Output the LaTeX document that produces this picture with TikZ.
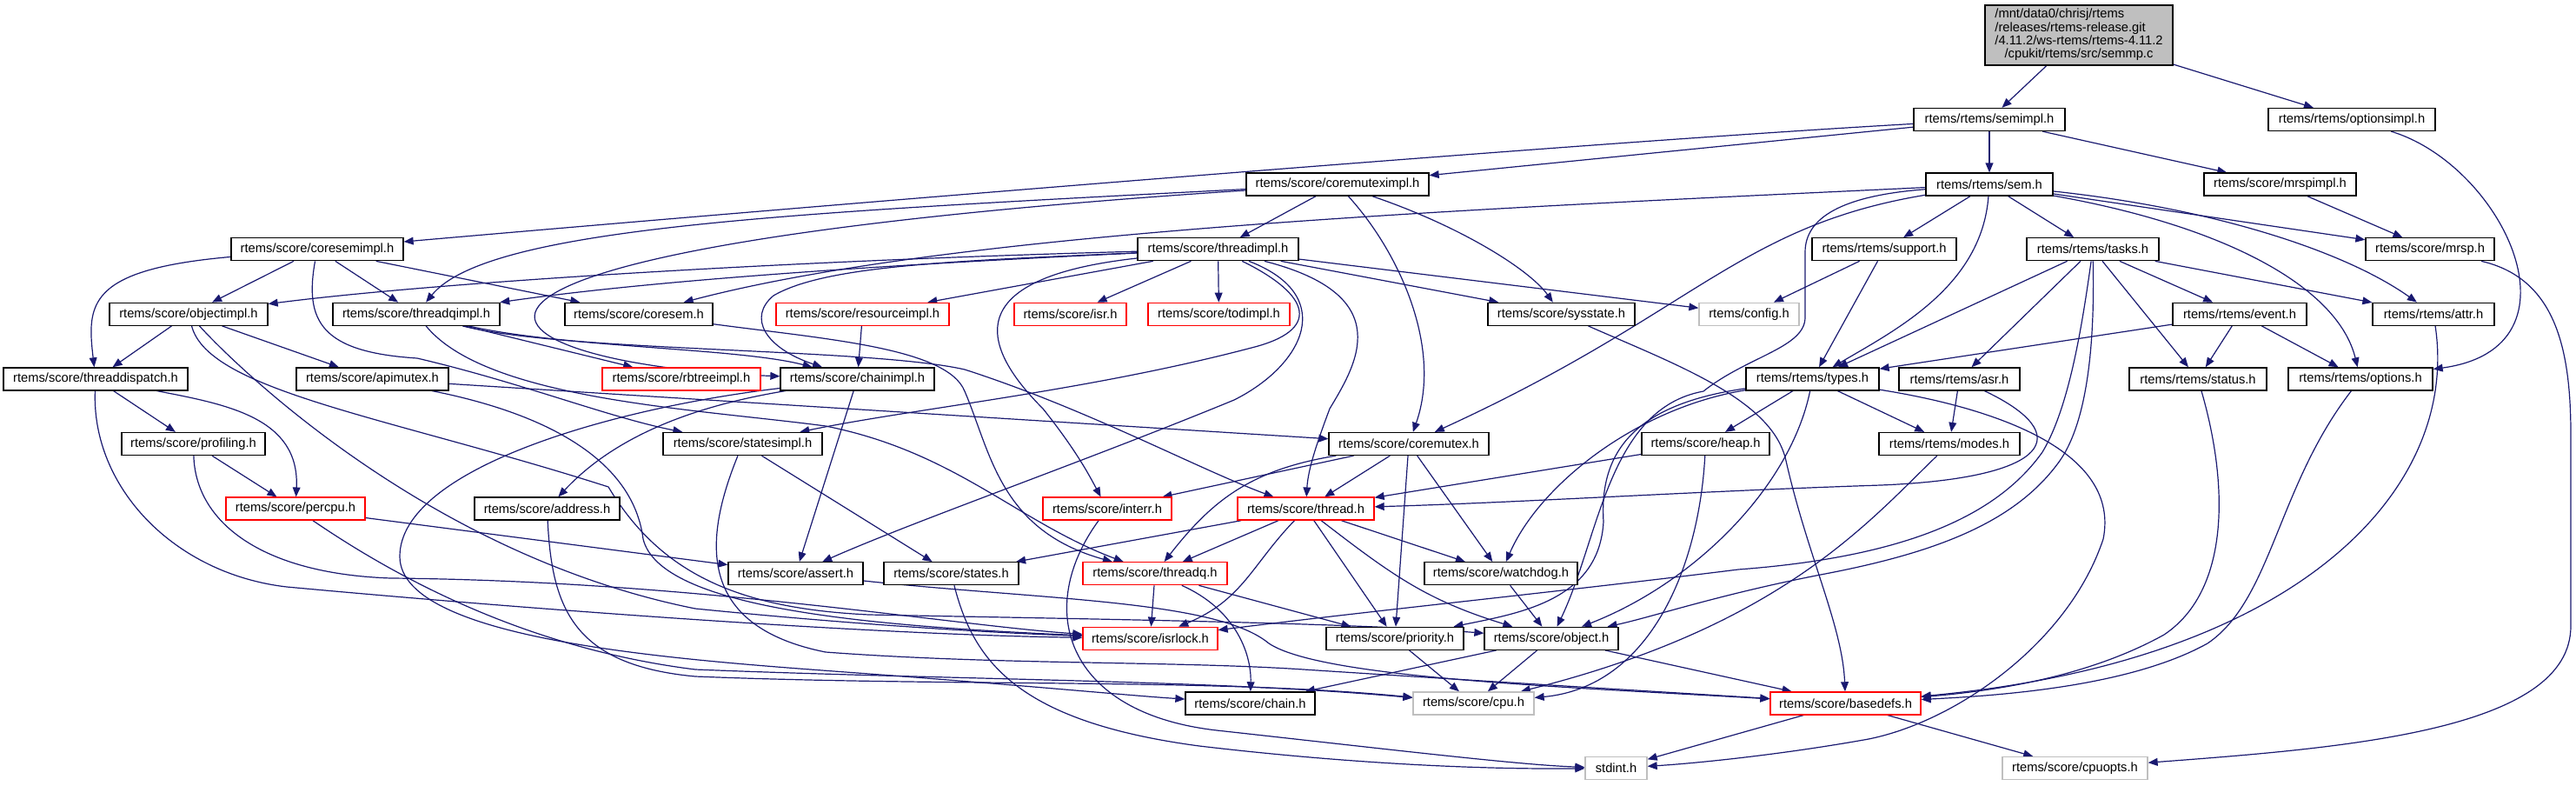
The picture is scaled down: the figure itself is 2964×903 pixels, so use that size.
\documentclass[tikz,border=0pt]{standalone}
\usepackage{fontspec}
\setmainfont{Liberation Sans}
\usetikzlibrary{arrows.meta}
\definecolor{navyedge}{HTML}{191970}
\definecolor{greyseventyfive}{HTML}{BFBFBF}
\definecolor{boxred}{HTML}{FF0000}
\newcommand{\hdrfont}{\fontsize{10.46pt}{12pt}\selectfont}
\newcommand{\rootfont}{\fontsize{10.46pt}{10.5pt}\selectfont}
\pgfdeclarelayer{background}
\pgfsetlayers{background,main}
\begin{document}
\begin{tikzpicture}[x=0.25mm, y=-0.25mm,
  hdr/.style={draw=black, fill=white, line width=0.32mm, rectangle, inner sep=0pt, minimum height=6.5mm, font=\hdrfont, text=black},
  hdrred/.style={hdr, draw=boxred},
  hdrgray/.style={hdr, draw=greyseventyfive},
  rootbox/.style={hdr, fill=greyseventyfive, minimum height=17.25mm, font=\rootfont},
  dep/.style={draw=navyedge, line width=0.3mm, -{Triangle[length=2.75mm, width=2.2mm]}}]
\useasboundingbox (0,0) rectangle (2964,903);

% ---------------- nodes ----------------
\node[rootbox, minimum width=54mm] (root) at (2392,40.5) {\begin{tabular}{@{}l@{}}/mnt/data0/chrisj/rtems\\/releases/rtems-release.git\\/4.11.2/ws-rtems/rtems-4.11.2\\\multicolumn{1}{@{}c@{}}{/cpukit/rtems/src/semmp.c}\end{tabular}};
\node[hdr, minimum width=43.5mm] (semimpl) at (2289,137.5) {rtems/rtems/semimpl.h};
\node[hdr, minimum width=48mm] (optionsimpl) at (2706,137.5) {rtems/rtems/optionsimpl.h};
\node[hdr, minimum width=52.5mm] (coremuteximpl) at (1539,212.1) {rtems/score/coremuteximpl.h};
\node[hdr, minimum width=36.5mm] (sem) at (2289,212.1) {rtems/rtems/sem.h};
\node[hdr, minimum width=43.75mm] (mrspimpl) at (2623.5,212.1) {rtems/score/mrspimpl.h};
\node[hdr, minimum width=49.5mm] (coresemimpl) at (365,286.7) {rtems/score/coresemimpl.h};
\node[hdr, minimum width=46.25mm] (threadimpl) at (1401.5,286.7) {rtems/score/threadimpl.h};
\node[hdr, minimum width=41.5mm] (support) at (2168,286.7) {rtems/rtems/support.h};
\node[hdr, minimum width=38mm] (tasks) at (2408,286.7) {rtems/rtems/tasks.h};
\node[hdr, minimum width=37mm] (mrsp) at (2796,286.7) {rtems/score/mrsp.h};
\node[hdr, minimum width=45.5mm] (objectimpl) at (217,361.3) {rtems/score/objectimpl.h};
\node[hdr, minimum width=48mm] (threadqimpl) at (479,361.3) {rtems/score/threadqimpl.h};
\node[hdr, minimum width=42.5mm] (coresem) at (735,361.3) {rtems/score/coresem.h};
\node[hdrred, minimum width=49.75mm] (resourceimpl) at (992.5,361.3) {rtems/score/resourceimpl.h};
\node[hdrred, minimum width=32.25mm] (isr) at (1231.5,361.3) {rtems/score/isr.h};
\node[hdrred, minimum width=40.75mm] (todimpl) at (1402.5,361.3) {rtems/score/todimpl.h};
\node[hdr, minimum width=42.25mm] (sysstate) at (1796.5,361.3) {rtems/score/sysstate.h};
\node[hdrgray, minimum width=28.75mm] (config) at (2012.5,361.3) {rtems/config.h};
\node[hdr, minimum width=38.5mm] (event) at (2577,361.3) {rtems/rtems/event.h};
\node[hdr, minimum width=35mm] (attr) at (2800,361.3) {rtems/rtems/attr.h};
\node[hdr, minimum width=53mm] (threaddispatch) at (110,435.9) {rtems/score/threaddispatch.h};
\node[hdr, minimum width=43.75mm] (apimutex) at (428.5,435.9) {rtems/score/apimutex.h};
\node[hdrred, minimum width=45.5mm] (rbtreeimpl) at (784,435.9) {rtems/score/rbtreeimpl.h};
\node[hdr, minimum width=44.25mm] (chainimpl) at (986.5,435.9) {rtems/score/chainimpl.h};
\node[hdr, minimum width=38.25mm] (types) at (2085.5,435.9) {rtems/rtems/types.h};
\node[hdr, minimum width=34.75mm] (asr) at (2254.5,435.9) {rtems/rtems/asr.h};
\node[hdr, minimum width=39.5mm] (status) at (2529,435.9) {rtems/rtems/status.h};
\node[hdr, minimum width=41.5mm] (options) at (2716,435.9) {rtems/rtems/options.h};
\node[hdr, minimum width=41.25mm] (profiling) at (222.5,510.5) {rtems/score/profiling.h};
\node[hdr, minimum width=45.75mm] (statesimpl) at (854.5,510.5) {rtems/score/statesimpl.h};
\node[hdr, minimum width=46mm] (coremutex) at (1621,510.5) {rtems/score/coremutex.h};
\node[hdr, minimum width=36.75mm] (heap) at (1962.5,510.5) {rtems/score/heap.h};
\node[hdr, minimum width=40.5mm] (modes) at (2243,510.5) {rtems/rtems/modes.h};
\node[hdrred, minimum width=40mm] (percpu) at (340,585.1) {rtems/score/percpu.h};
\node[hdr, minimum width=41.75mm] (address) at (629.5,585.1) {rtems/score/address.h};
\node[hdrred, minimum width=37mm] (interr) at (1274,585.1) {rtems/score/interr.h};
\node[hdrred, minimum width=39.25mm] (thread) at (1502.5,585.1) {rtems/score/thread.h};
\node[hdr, minimum width=38.75mm] (assert) at (915.5,659.7) {rtems/score/assert.h};
\node[hdr, minimum width=38.75mm] (states) at (1094.5,659.7) {rtems/score/states.h};
\node[hdrred, minimum width=41.5mm] (threadq) at (1329,659.7) {rtems/score/threadq.h};
\node[hdr, minimum width=44mm] (watchdog) at (1727,659.7) {rtems/score/watchdog.h};
\node[hdrred, minimum width=38.75mm] (isrlock) at (1323.5,734.3) {rtems/score/isrlock.h};
\node[hdr, minimum width=39.5mm] (priority) at (1605,734.3) {rtems/score/priority.h};
\node[hdr, minimum width=38.5mm] (object) at (1785,734.3) {rtems/score/object.h};
\node[hdr, minimum width=37.25mm] (chain) at (1438.5,808.9) {rtems/score/chain.h};
\node[hdrgray, minimum width=34.75mm] (cpu) at (1695.5,808.9) {rtems/score/cpu.h};
\node[hdrred, minimum width=43.25mm] (basedefs) at (2123.5,808.9) {rtems/score/basedefs.h};
\node[hdrgray, minimum width=17.75mm] (stdint) at (1859.5,883.5) {stdint.h};
\node[hdrgray, minimum width=41.75mm] (cpuopts) at (2387.5,883.5) {rtems/score/cpuopts.h};

% ---------------- edges ----------------
\begin{pgfonlayer}{background}
\fill[white] (0,0) rectangle (2964,903);
% root
\draw[dep] (root) -- (semimpl);
\draw[dep] (root) -- (optionsimpl);
% semimpl
\draw[dep] (semimpl) -- (sem);
\draw[dep] (semimpl) -- (mrspimpl);
\draw[dep] (semimpl) -- (coremuteximpl);
\draw[dep] (semimpl) .. controls (1800,165) and (900,240) .. (coresemimpl);
% coremuteximpl
\draw[dep] (coremuteximpl) -- (threadimpl);
\draw[dep] (coremuteximpl) .. controls (1610,290) and (1660,400) .. (coremutex);
\draw[dep] (coremuteximpl) .. controls (1680,260) and (1760,310) .. (sysstate);
\draw[dep] (coremuteximpl) .. controls (900,245) and (560,262) .. (threadqimpl);
\draw[dep] (coremuteximpl) .. controls (350,290) and (540,420) .. (chainimpl);
% coresemimpl
\draw[dep] (coresemimpl) -- (objectimpl);
\draw[dep] (coresemimpl) -- (threadqimpl);
\draw[dep] (coresemimpl) -- (coresem);
\draw[dep] (coresemimpl) .. controls (100,310) and (100,350) .. (threaddispatch);
\draw[dep] (coresemimpl) .. controls (350,370) and (370,405) .. (480,412) .. controls (600,440) and (700,480) .. (statesimpl);
% objectimpl
\draw[dep] (objectimpl) -- (threaddispatch);
\draw[dep] (objectimpl) -- (apimutex);
\draw[dep] (objectimpl) .. controls (280,430) and (500,640) .. (800,700) .. controls (1000,720) and (1150,728) .. (isrlock);
\draw[dep] (objectimpl) .. controls (240,450) and (450,480) .. (700,560) .. controls (760,660) and (850,700) .. (1000,707) .. controls (1250,712) and (1550,716) .. (object);
% threaddispatch
\draw[dep] (threaddispatch) -- (profiling);
\draw[dep] (threaddispatch) .. controls (260,465) and (345,480) .. (percpu);
\draw[dep] (threaddispatch) .. controls (105,560) and (200,660) .. (330,675) .. controls (600,700) and (1000,730) .. (isrlock);
% profiling
\draw[dep] (profiling) -- (percpu);
\draw[dep] (profiling) .. controls (225,600) and (300,660) .. (450,665) .. controls (800,668) and (1100,720) .. (isrlock);
% percpu, address
\draw[dep] (percpu) -- (assert);
\draw[dep] (percpu) .. controls (450,660) and (600,745) .. (800,770) .. controls (1100,782) and (1400,782) .. (cpu);
\draw[dep] (address) .. controls (635,700) and (660,765) .. (800,778) .. controls (1100,790) and (1400,780) .. (cpu);
% chainimpl, resourceimpl
\draw[dep] (chainimpl) -- (assert);
\draw[dep] (chainimpl) .. controls (780,470) and (700,510) .. (address);
\draw[dep] (chainimpl) .. controls (700,470) and (460,540) .. (460,640) .. controls (460,740) and (800,760) .. (1000,775) .. controls (1200,790) and (1300,800) .. (chain);
\draw[dep] (resourceimpl) -- (chainimpl);
% statesimpl
\draw[dep] (statesimpl) -- (states);
\draw[dep] (statesimpl) .. controls (810,620) and (800,720) .. (950,750) .. controls (1150,765) and (1350,760) .. (1500,770) .. controls (1700,783) and (1900,795) .. (basedefs);
% apimutex
\draw[dep] (apimutex) -- (coremutex);
\draw[dep] (apimutex) .. controls (650,480) and (730,540) .. (740,620) .. controls (760,700) and (1000,720) .. (isrlock);
% threadqimpl
\draw[dep] (threadqimpl) -- (rbtreeimpl);
\draw[dep] (threadqimpl) .. controls (650,400) and (850,400) .. (chainimpl);
\draw[dep] (threadqimpl) .. controls (560,460) and (800,470) .. (950,490) .. controls (1100,520) and (1170,600) .. (threadq);
\draw[dep] (threadqimpl) .. controls (650,405) and (1000,400) .. (1110,425) .. controls (1250,470) and (1380,540) .. (thread);
% threadimpl
\draw[dep] (threadimpl) .. controls (900,300) and (500,325) .. (objectimpl);
\draw[dep] (threadimpl) .. controls (900,310) and (700,330) .. (threadqimpl);
\draw[dep] (threadimpl) -- (resourceimpl);
\draw[dep] (threadimpl) -- (isr);
\draw[dep] (threadimpl) -- (todimpl);
\draw[dep] (threadimpl) -- (sysstate);
\draw[dep] (threadimpl) -- (config);
\draw[dep] (threadimpl) .. controls (1100,300) and (950,305) .. (890,340) .. controls (860,365) and (880,400) .. (chainimpl);
\draw[dep] (threadimpl) .. controls (1100,320) and (1130,400) .. (1200,470) .. controls (1240,520) and (1255,550) .. (interr);
\draw[dep] (threadimpl) .. controls (1510,340) and (1520,380) .. (1440,400) .. controls (1250,450) and (1050,470) .. (statesimpl);
\draw[dep] (threadimpl) .. controls (1610,340) and (1560,420) .. (1530,470) .. controls (1515,510) and (1505,540) .. (thread);
\draw[dep] (threadimpl) .. controls (1540,340) and (1500,420) .. (1420,460) .. controls (1250,530) and (1050,600) .. (assert);
% coresem
\draw[dep] (coresem) .. controls (950,390) and (1090,400) .. (1110,450) .. controls (1140,520) and (1150,610) .. (threadq);
% coremutex
\draw[dep] (coremutex) -- (thread);
\draw[dep] (coremutex) -- (priority);
\draw[dep] (coremutex) -- (watchdog);
\draw[dep] (coremutex) -- (interr);
\draw[dep] (coremutex) .. controls (1440,540) and (1395,575) .. (threadq);
% thread
\draw[dep] (thread) -- (threadq);
\draw[dep] (thread) .. controls (1440,650) and (1430,690) .. (isrlock);
\draw[dep] (thread) -- (states);
\draw[dep] (thread) -- (priority);
\draw[dep] (thread) .. controls (1600,660) and (1640,690) .. (object);
\draw[dep] (thread) -- (watchdog);
% threadq
\draw[dep] (threadq) -- (isrlock);
\draw[dep] (threadq) -- (priority);
\draw[dep] (threadq) .. controls (1420,700) and (1440,750) .. (chain);
% lower level
\draw[dep] (watchdog) -- (object);
\draw[dep] (priority) -- (cpu);
\draw[dep] (object) -- (chain);
\draw[dep] (object) -- (cpu);
\draw[dep] (object) -- (basedefs);
\draw[dep] (basedefs) -- (stdint);
\draw[dep] (basedefs) -- (cpuopts);
\draw[dep] (assert) .. controls (1200,690) and (1400,690) .. (1460,740) .. controls (1520,780) and (1800,790) .. (basedefs);
\draw[dep] (states) .. controls (1120,760) and (1170,830) .. (1380,858) .. controls (1550,878) and (1700,885) .. (stdint);
\draw[dep] (interr) .. controls (1190,700) and (1225,820) .. (1400,840) .. controls (1600,862) and (1750,880) .. (stdint);
% heap, modes, asr
\draw[dep] (heap) -- (thread);
\draw[dep] (heap) .. controls (1955,650) and (1900,790) .. (cpu);
\draw[dep] (modes) .. controls (2150,600) and (2050,720) .. (cpu);
\draw[dep] (asr) -- (modes);
\draw[dep] (asr) .. controls (2390,500) and (2360,550) .. (2164,558) .. controls (1950,565) and (1750,578) .. (thread);
% types
\draw[dep] (types) -- (heap);
\draw[dep] (types) -- (modes);
\draw[dep] (types) .. controls (1880,470) and (1770,560) .. (watchdog);
\draw[dep] (types) .. controls (1880,465) and (1840,520) .. (1845,600) .. controls (1840,690) and (1750,705) .. (priority);
\draw[dep] (types) .. controls (2060,560) and (1950,670) .. (object);
\draw[dep] (types) .. controls (2300,470) and (2440,520) .. (2420,620) .. controls (2380,740) and (2250,830) .. (2150,850) .. controls (2050,868) and (1950,878) .. (stdint);
% sysstate
\draw[dep] (sysstate) .. controls (1930,420) and (2040,460) .. (2055,530) .. controls (2080,640) and (2120,720) .. (basedefs);
% sem
\draw[dep] (sem) -- (support);
\draw[dep] (sem) -- (tasks);
\draw[dep] (sem) -- (mrsp);
\draw[dep] (sem) .. controls (2550,240) and (2700,290) .. (attr);
\draw[dep] (sem) .. controls (2560,260) and (2690,330) .. (options);
\draw[dep] (sem) .. controls (2280,330) and (2180,380) .. (types);
\draw[dep] (sem) .. controls (1700,240) and (1100,265) .. (coresem);
\draw[dep] (sem) .. controls (2000,260) and (1950,360) .. (coremutex);
\draw[dep] (sem) .. controls (2120,225) and (2077,250) .. (2077,290) -- (2077,365) .. controls (2077,400) and (2010,410) .. (1960,450) .. controls (1850,470) and (1840,620) .. (object);
% support, tasks, event
\draw[dep] (support) -- (config);
\draw[dep] (support) -- (types);
\draw[dep] (tasks) -- (types);
\draw[dep] (tasks) -- (asr);
\draw[dep] (tasks) -- (status);
\draw[dep] (tasks) -- (event);
\draw[dep] (tasks) -- (attr);
\draw[dep] (tasks) .. controls (2395,380) and (2380,470) .. (2350,520) .. controls (2300,590) and (2200,640) .. (2000,655) .. controls (1800,680) and (1600,700) .. (isrlock);
\draw[dep] (tasks) .. controls (2410,380) and (2405,480) .. (2370,530) .. controls (2320,600) and (2230,635) .. (2100,660) .. controls (1980,683) and (1900,710) .. (object);
\draw[dep] (event) -- (types);
\draw[dep] (event) -- (status);
\draw[dep] (event) -- (options);
% right column
\draw[dep] (mrspimpl) -- (mrsp);
\draw[dep] (optionsimpl) .. controls (2880,190) and (2980,400) .. (options);
\draw[dep] (mrsp) .. controls (2940,320) and (2958,400) .. (2958,500) -- (2958,720) .. controls (2958,840) and (2700,860) .. (cpuopts);
\draw[dep] (attr) .. controls (2830,560) and (2650,760) .. (basedefs);
\draw[dep] (options) .. controls (2620,560) and (2614,690) .. (2540,740) .. controls (2450,790) and (2300,800) .. (basedefs);
\draw[dep] (status) .. controls (2565,560) and (2565,680) .. (2490,730) .. controls (2400,780) and (2290,795) .. (basedefs);
\end{pgfonlayer}
\end{tikzpicture}
\end{document}
